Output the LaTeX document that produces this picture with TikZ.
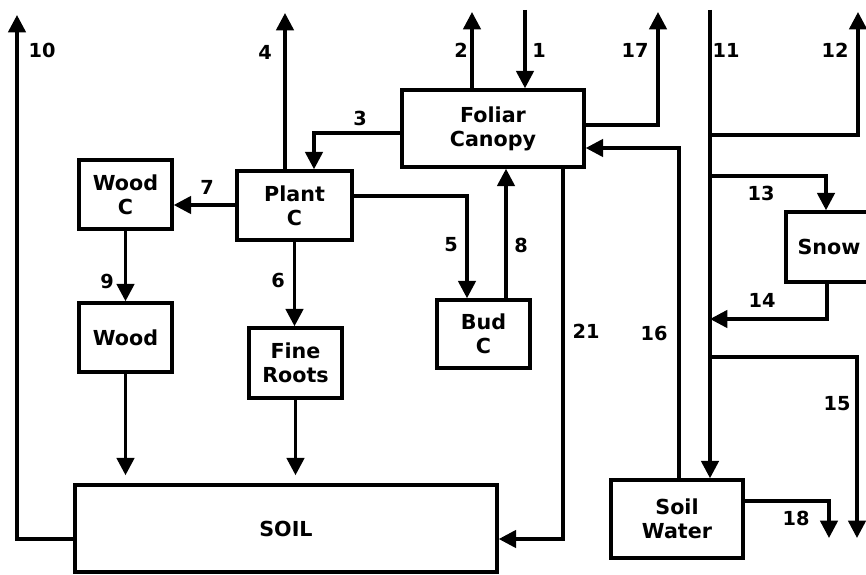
\documentclass[tikz,border=0pt]{standalone}
\usepackage{fontspec}
\setmainfont{DejaVu Sans}
\usepackage{tikz}
\usetikzlibrary{positioning,arrows.meta,calc}

\begin{document}
\begin{tikzpicture}[x=0.75pt,y=-0.75pt,
  every node/.style={font=\fontsize{15.5}{18}\selectfont\bfseries, align=center},
  pool/.style={draw, line width=2.6pt, inner sep=0pt},
  flow/.style={line width=2.6pt, -{Triangle[length=13pt,width=13pt]}},
  num/.style={font=\fontsize{14.5}{16}\selectfont\bfseries}]
  \useasboundingbox (0,0) rectangle (866,574);
  \node[pool, minimum width=182*0.75pt, minimum height=77*0.75pt] (canopy) at (493,128.5) {Foliar\\Canopy};
  \node[pool, minimum width=115*0.75pt, minimum height=69*0.75pt] (plant) at (294.5,205.5) {Plant\\C};
  \node[pool, minimum width=93*0.75pt, minimum height=69*0.75pt] (woodc) at (125.5,194.5) {Wood\\C};
  \node[pool, minimum width=93*0.75pt, minimum height=69*0.75pt] (wood) at (125.5,337.5) {Wood};
  \node[pool, minimum width=93*0.75pt, minimum height=70*0.75pt] (roots) at (295.5,363) {Fine\\Roots};
  \node[pool, minimum width=93*0.75pt, minimum height=68*0.75pt] (bud) at (483.5,334) {Bud\\C};
  \node[pool, minimum width=422*0.75pt, minimum height=87*0.75pt] (soil) at (286,528.5) {SOIL};
  \node[pool, minimum width=86*0.75pt, minimum height=70*0.75pt] (snow) at (829,247) {Snow};
  \node[pool, minimum width=132*0.75pt, minimum height=78*0.75pt] (water) at (677,519) {Soil\\Water};

  \coordinate (in1) at (525,10);
  \coordinate (out2) at (472,12);
  \coordinate (c3) at (314,133);
  \coordinate (out4) at (285,13);
  \coordinate (c5) at (467,196);
  \coordinate (c7) at (200,205);
  \coordinate (c8) at (506,250);
  \coordinate (c10) at (17,539);
  \coordinate (out10) at (17,15);
  \coordinate (in11) at (710,10);
  \coordinate (c12) at (858,135);
  \coordinate (out12) at (858,12);
  \coordinate (c13) at (826,176);
  \coordinate (c14) at (827,319);
  \coordinate (c15) at (857,357);
  \coordinate (out15) at (857,538);
  \coordinate (c16) at (679,148);
  \coordinate (c17) at (658,125);
  \coordinate (out17) at (658,12);
  \coordinate (c18) at (829,501);
  \coordinate (out18) at (829,538);
  \coordinate (c21) at (563,539);

  \draw[flow] (in1) -- (in1 |- canopy.north);
  \draw[flow] (canopy.north -| out2) -- (out2);
  \draw[flow] (canopy.west |- c3) -- (c3) -- (plant.north -| c3);
  \draw[flow] (plant.north -| out4) -- (out4);
  \draw[flow] (plant.east |- c5) -- (c5) -- (bud.north -| c5);
  \draw[flow] (plant.south) -- (plant.south |- roots.north);
  \draw[flow] (plant.west |- c7) -- (woodc.east |- c7);
  \draw[flow] (bud.north -| c8) -- (canopy.south -| c8);
  \draw[flow] (woodc.south) -- (wood.north);
  \draw[flow] (soil.west |- c10) -- (c10) -- (out10);
  \draw[flow] (in11) -- (water.north -| in11);
  \draw[flow] (in11 |- c12) -- (c12) -- (out12);
  \draw[flow] (in11 |- c13) -- (c13) -- (snow.north -| c13);
  \draw[flow] (snow.south -| c14) -- (c14) -- (in11 |- c14);
  \draw[flow] (in11 |- c15) -- (c15) -- (out15);
  \draw[flow] (water.north -| c16) -- (c16) -- (canopy.east |- c16);
  \draw[flow] (canopy.east |- c17) -- (c17) -- (out17);
  \draw[flow] (water.east |- c18) -- (c18) -- (out18);
  \draw[flow] (canopy.south -| c21) -- (c21) -- (soil.east |- c21);
  \draw[flow, shorten >=6pt] (wood.south) -- (wood.south |- soil.north);
  \draw[flow, shorten >=6pt] (roots.south) -- (roots.south |- soil.north);

  \node[num] (n1) at (539,50) {1};
  \node[num] (n2) at (461,50) {2};
  \node[num] (n3) at (360,118) {3};
  \node[num] (n4) at (265,52) {4};
  \node[num] (n5) at (451,245) {5};
  \node[num] (n6) at (278,280) {6};
  \node[num] (n7) at (207,187) {7};
  \node[num] (n8) at (521,245) {8};
  \node[num] (n9) at (107,281) {9};
  \node[num] (n10) at (42,50) {10};
  \node[num] (n11) at (726,50) {11};
  \node[num] (n12) at (835,50) {12};
  \node[num] (n13) at (761,193) {13};
  \node[num] (n14) at (762,300) {14};
  \node[num] (n15) at (837,404) {15};
  \node[num] (n16) at (654,333) {16};
  \node[num] (n17) at (635,50) {17};
  \node[num] (n18) at (796,518) {18};
  \node[num] (n21) at (586,331) {21};
\end{tikzpicture}
\end{document}
